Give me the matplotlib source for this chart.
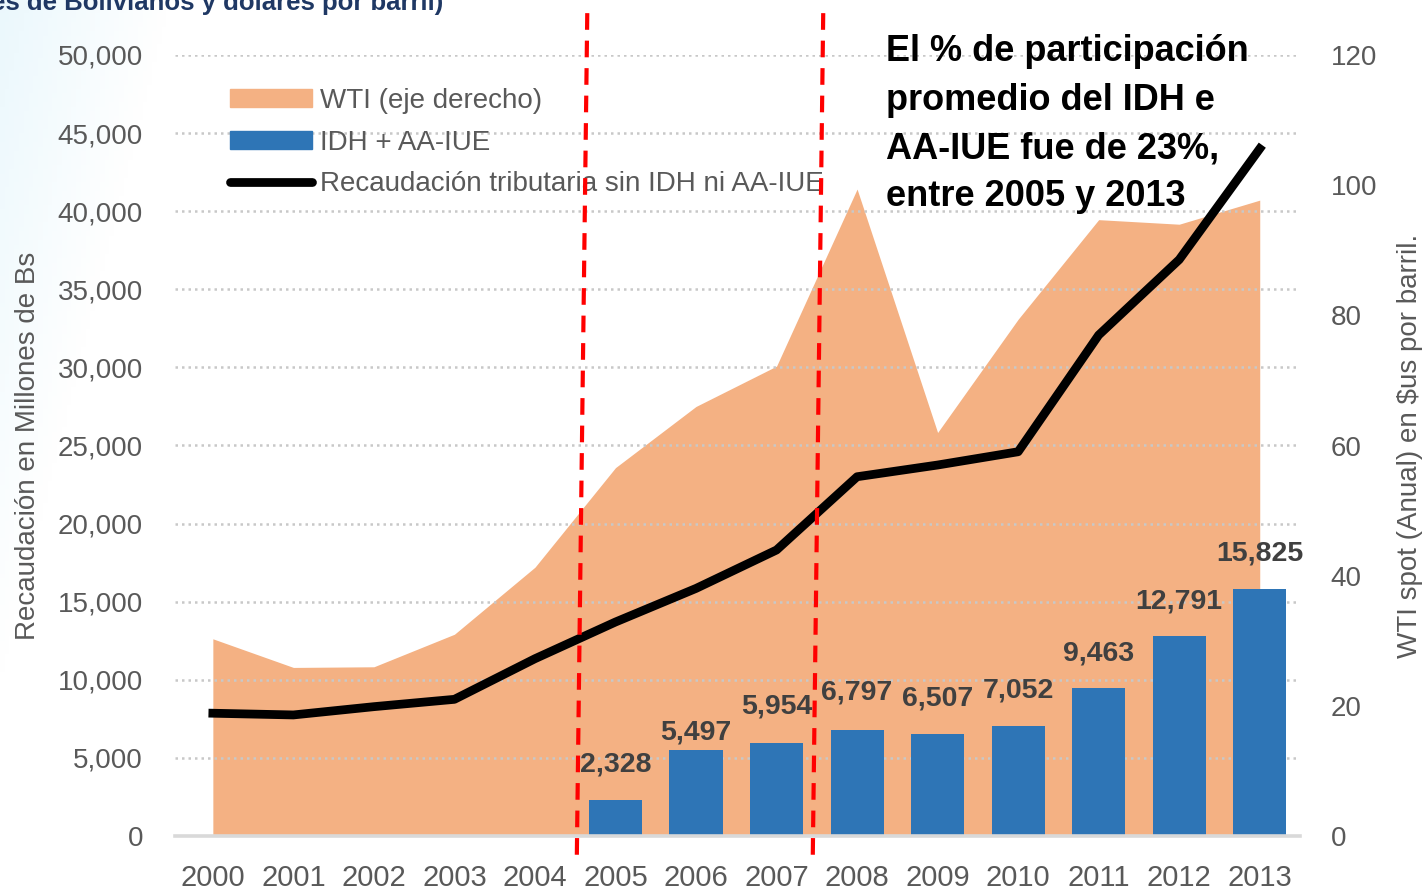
import numpy as np
import matplotlib
matplotlib.use("Agg")
import matplotlib.pyplot as plt
from matplotlib.patches import Patch
from matplotlib.lines import Line2D

# ---- data ----
years = [2000, 2001, 2002, 2003, 2004, 2005, 2006, 2007, 2008, 2009, 2010, 2011, 2012, 2013]
wti = [30.3, 25.9, 26.0, 31.0, 41.3, 56.6, 66.0, 72.2, 99.4, 62.0, 79.4, 94.7, 94.0, 97.7]
recaudacion = [7860, 7750, 8280, 8750, 11350, 13700, 15850, 18310, 23000, 23750, 24600, 32070, 36900, 44000]
idh_years = [2005, 2006, 2007, 2008, 2009, 2010, 2011, 2012, 2013]
idh = [2328, 5497, 5954, 6797, 6507, 7052, 9463, 12791, 15825]
label_offsets = [22, 5, 23, 24, 23, 22, 22, 22, 22]   # px gap above each bar, as in the slide
cortes = [2004.52, 2007.45]   # red dashed period marks (bottom position)

plt.rcParams["font.family"] = ["Liberation Sans", "DejaVu Sans"]
GRAY = "#595959"
ORANGE = "#F4B183"
BLUE = "#2E75B6"

fig = plt.figure(figsize=(14.27, 8.9), dpi=100)

# faint blue wash in the top-left corner of the slide
bg = fig.add_axes([0, 0, 1, 1], zorder=-10)
gx, gy = np.meshgrid(np.linspace(0, 1427, 300), np.linspace(0, 890, 200))
alpha = np.clip(1 - (gx + 0.25 * gy) / 170, 0, 1) * 0.4
rgba = np.zeros(gx.shape + (4,))
rgba[..., 0] = 0.80
rgba[..., 1] = 0.93
rgba[..., 2] = 0.98
rgba[..., 3] = alpha
bg.imshow(rgba, extent=[0, 1427, 890, 0], aspect="auto")
bg.set_xlim(0, 1427)
bg.set_ylim(890, 0)
bg.axis("off")

ax = fig.add_axes([175 / 1427, 1 - 836 / 890, 1125 / 1427, 781 / 890])
ax2 = ax.twinx()
ax.set_zorder(ax2.get_zorder() + 1)
ax.patch.set_visible(False)

# WTI area on the right axis
ax2.fill_between(years, wti, 0, color=ORANGE, linewidth=0)
ax2.set_ylim(0, 120)
ax2.set_yticks(range(0, 121, 20))

# bars and line on the left axis
ax.bar(idh_years, idh, width=0.66, color=BLUE, zorder=2)
ax.plot(years, recaudacion, color="black", lw=6.3, zorder=3)
for x, v, off in zip(idh_years, idh, label_offsets):
    ax.annotate(f"{v:,}", (x, v), xytext=(0, off * 0.72), textcoords="offset points",
                ha="center", va="bottom", fontsize=20.5, fontweight="bold", color="#404040")

ax.set_ylim(0, 50000)
ax.set_xlim(1999.53, 2013.5)
ax.set_yticks(range(0, 50001, 5000))
ax.set_yticklabels([f"{v:,}" for v in range(0, 50001, 5000)])
ax.set_xticks(years)
ax.grid(axis="y", color="#c8c8c8", linestyle=(0, (1, 1.6)), lw=1.8)
ax.set_axisbelow(True)

for a in (ax, ax2):
    for s in a.spines.values():
        s.set_visible(False)
ax.spines["bottom"].set_visible(True)
ax.spines["bottom"].set_color("#d9d9d9")
ax.spines["bottom"].set_linewidth(2.6)

ax.tick_params(axis="y", length=0, pad=23, labelsize=20, labelcolor=GRAY)
ax.tick_params(axis="x", length=0, pad=20, labelsize=21, labelcolor=GRAY)
ax2.tick_params(axis="y", length=0, pad=22, labelsize=20, labelcolor=GRAY)

ax.set_ylabel("Recaudación en Millones de Bs", fontsize=20, color=GRAY)
ax.yaxis.set_label_coords(-0.119, 0.5)
ax2.set_ylabel("WTI spot (Anual) en $us por barril.", fontsize=20, color=GRAY)
ax2.yaxis.set_label_coords(1.086, 0.5)

# red dashed period marks, slightly slanted as on the slide
for c in cortes:
    ax.plot([c, c + 0.13], [-1200, 52900], color="red", lw=3.0,
            linestyle=(0, (4.0, 2.6)), clip_on=False, zorder=6)

handles = [Patch(color=ORANGE), Patch(color=BLUE),
           Line2D([0], [0], color="black", lw=6.3, solid_capstyle="round")]
labels = ["WTI (eje derecho)", "IDH + AA-IUE", "Recaudación tributaria sin IDH ni AA-IUE"]
leg = ax.legend(handles, labels, loc="upper left", bbox_to_anchor=(0.0489, 0.958),
                frameon=False, fontsize=20, handlelength=2.95, handleheight=0.65,
                handletextpad=0.29, labelspacing=0.57, borderpad=0, borderaxespad=0)
for t in leg.get_texts():
    t.set_color(GRAY)
leg.set_zorder(5)

fig.text(886 / 1427, 1 - 34 / 890,
         "El % de participación\npromedio del IDH e\nAA-IUE fue de 23%,\nentre 2005 y 2013",
         ha="left", va="top", fontsize=26, fontweight="bold", color="black", linespacing=1.5)

fig.text(443 / 1427, 1 - 10 / 890, "(En Millones de Bolivianos y dolares por barril)",
         ha="right", va="baseline", fontsize=18.5, fontweight="bold", color="#1F3864")

fig.savefig("out.png", dpi=100)
